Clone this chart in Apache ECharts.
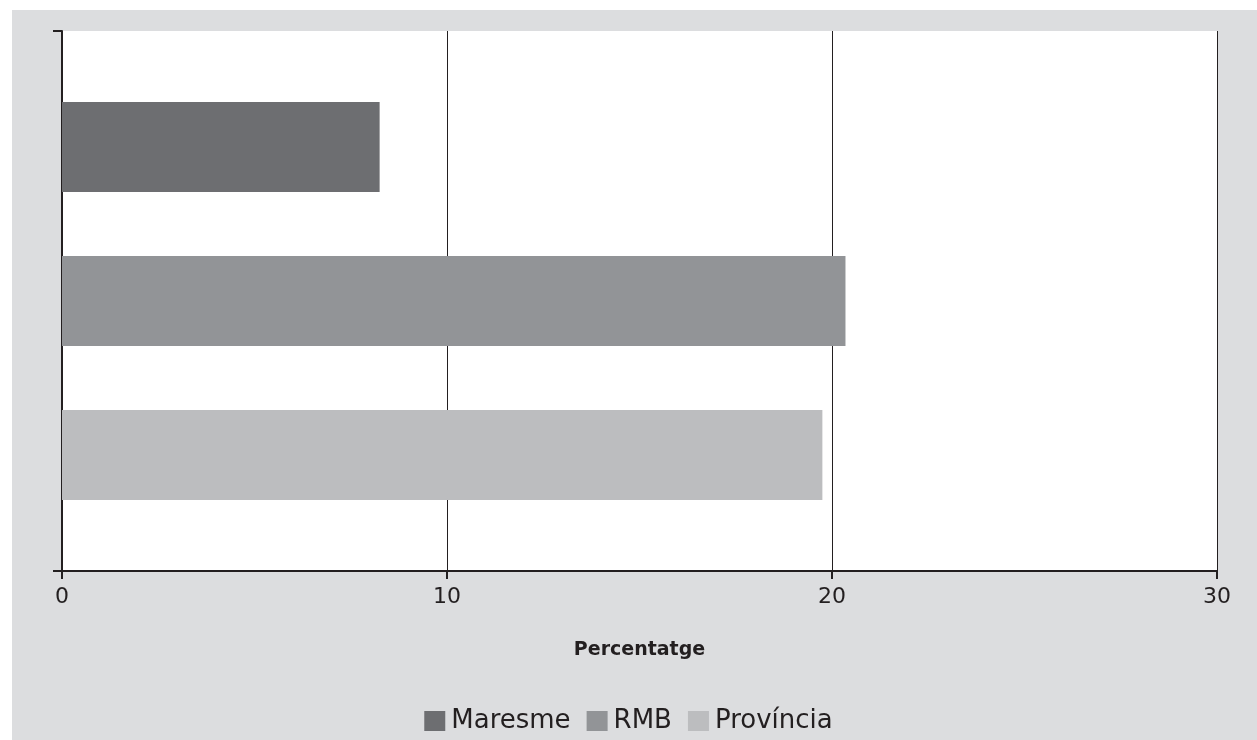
<!DOCTYPE html>
<html><head><meta charset="utf-8">
<script src="https://cdn.jsdelivr.net/npm/echarts@6/dist/echarts.min.js"></script>
<style>
html,body{margin:0;padding:0;background:#fff;}
#bg{position:absolute;left:12px;top:10px;width:1245px;height:730px;background:#dcdddf;}
#c{position:absolute;left:0;top:0;width:1257px;height:740px;}
</style></head>
<body><div id="bg"></div><div id="c"></div>
<script>
const categories = [''];
const seriesNames = ['Maresme', 'RMB', 'Província'];
const maresme = [8.25];
const rmb = [20.35];
const provincia = [19.75];
const xTicks = [0, 10, 20, 30];
const colors = ['#6d6e71', '#929497', '#bcbdbf'];
const values = [maresme, rmb, provincia];

const chart = echarts.init(document.getElementById('c'), null, {renderer: 'canvas'});
const font = '"DejaVu Sans", sans-serif';
chart.setOption({
  backgroundColor: 'transparent',
  animation: false,
  grid: {left: 62, top: 31, right: 40, bottom: 169, show: true, backgroundColor: '#fff', borderWidth: 0},
  legend: {
    data: seriesNames, bottom: 1, left: 'center',
    itemWidth: 21, itemHeight: 20, itemGap: 16,
    icon: 'rect',
    textStyle: {fontFamily: font, fontSize: 26, color: '#231f20', padding: [0, 0, 0, 1]}
  },
  xAxis: {
    type: 'value', min: xTicks[0], max: xTicks[xTicks.length - 1], interval: 10,
    name: 'Percentatge', nameLocation: 'middle', nameGap: 70,
    nameTextStyle: {fontFamily: font, fontSize: 19, fontWeight: 'bold', color: '#231f20'},
    axisLine: {show: true, lineStyle: {color: '#231f20', width: 2}},
    axisTick: {show: true, length: 8, lineStyle: {color: '#231f20', width: 2}},
    axisLabel: {fontFamily: font, fontSize: 22, color: '#231f20', margin: 15},
    splitLine: {show: true, lineStyle: {color: '#231f20', width: 1}}
  },
  yAxis: {
    type: 'category', data: categories, inverse: true,
    axisLine: {show: true, lineStyle: {color: '#231f20', width: 2}},
    axisTick: {show: true, length: 9, lineStyle: {color: '#231f20', width: 2}},
    axisLabel: {show: false},
    splitLine: {show: false}
  },
  series: seriesNames.map((n, i) => ({
    name: n, type: 'bar', data: values[i],
    barWidth: 90, barGap: '71%',
    itemStyle: {color: colors[i]}
  }))
});
</script></body></html>
